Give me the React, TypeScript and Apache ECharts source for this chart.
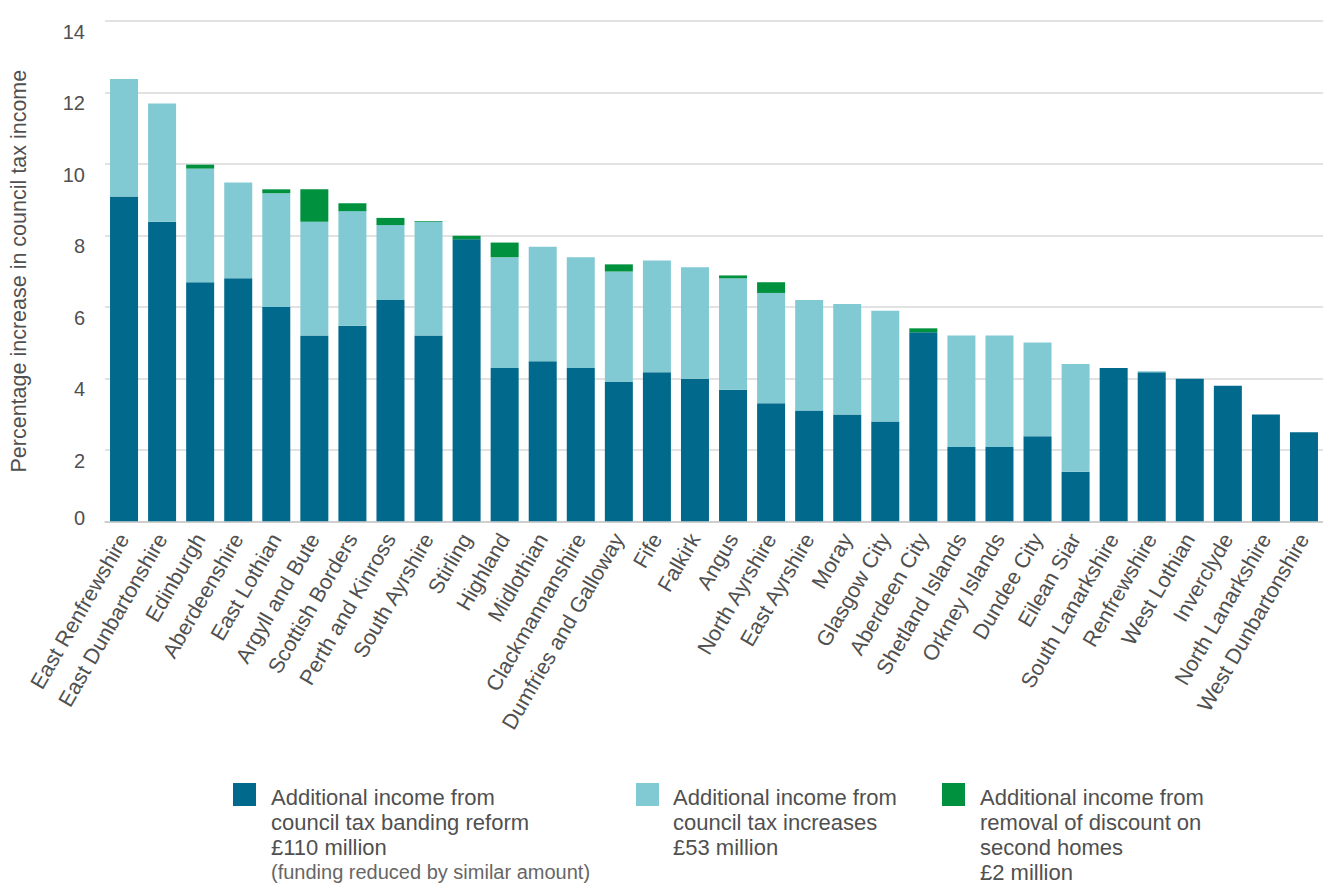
import React, { useEffect, useRef } from "react";
import * as echarts from "echarts";

const categories = [
  "East Renfrewshire", "East Dunbartonshire", "Edinburgh", "Aberdeenshire", "East Lothian",
  "Argyll and Bute", "Scottish Borders", "Perth and Kinross", "South Ayrshire", "Stirling",
  "Highland", "Midlothian", "Clackmannanshire", "Dumfries and Galloway", "Fife", "Falkirk",
  "Angus", "North Ayrshire", "East Ayrshire", "Moray", "Glasgow City", "Aberdeen City",
  "Shetland Islands", "Orkney Islands", "Dundee City", "Eilean Siar", "South Lanarkshire",
  "Renfrewshire", "West Lothian", "Inverclyde", "North Lanarkshire", "West Dunbartonshire",
];

const bandingReform = [
  9.09, 8.38, 6.69, 6.8, 6.0, 5.2, 5.47, 6.19, 5.2, 7.89, 4.29, 4.48, 4.29, 3.9, 4.17, 3.99,
  3.68, 3.3, 3.1, 2.99, 2.79, 5.29, 2.08, 2.08, 2.38, 1.39, 4.29, 4.17, 3.99, 3.79, 2.99, 2.49,
];

const taxIncreases = [
  3.29, 3.31, 3.18, 2.68, 3.18, 3.18, 3.21, 2.1, 3.18, 0, 3.1, 3.2, 3.1, 3.09, 3.13, 3.12,
  3.12, 3.09, 3.09, 3.09, 3.1, 0, 3.12, 3.12, 2.62, 3.01, 0, 0.03, 0, 0, 0, 0,
];

const secondHomes = [
  0, 0, 0.11, 0, 0.11, 0.91, 0.22, 0.2, 0.02, 0.1, 0.41, 0, 0, 0.2, 0, 0,
  0.08, 0.3, 0, 0, 0, 0.11, 0, 0, 0, 0, 0, 0, 0, 0, 0, 0,
];

const yTicks = [0, 2, 4, 6, 8, 10, 12, 14];

const seriesNames = [
  "Additional income from council tax banding reform",
  "Additional income from council tax increases",
  "Additional income from removal of discount on second homes",
];

const legendLines = [
  ["Additional income from", "council tax banding reform", "£110 million"],
  ["Additional income from", "council tax increases", "£53 million"],
  ["Additional income from", "removal of discount on", "second homes", "£2 million"],
];
const legendNote = "(funding reduced by similar amount)";

const COLORS = ["#00698c", "#82cad3", "#00913f"];
const FONT = "'Liberation Sans', Arial, sans-serif";
const TEXT = "#505050";

export default function App() {
  const ref = useRef<HTMLDivElement>(null);

  useEffect(() => {
    if (!ref.current) return;
    const chart = echarts.init(ref.current, null, { renderer: "svg" });

    const squareX = [233, 636, 942];
    const textX = [271, 673, 980];
    const graphics: any[] = [];
    legendLines.forEach((lines, i) => {
      graphics.push({
        type: "rect",
        x: squareX[i],
        y: 783,
        shape: { width: 23, height: 23 },
        style: { fill: COLORS[i] },
      });
      lines.forEach((t, j) => {
        graphics.push({
          type: "text",
          x: textX[i],
          y: 797 + j * 25,
          style: {
            text: t,
            fill: TEXT,
            font: `22px ${FONT}`,
            verticalAlign: "middle",
            align: "left",
          },
        });
      });
    });
    graphics.push({
      type: "text",
      x: textX[0],
      y: 797 + 3 * 25,
      style: {
        text: legendNote,
        fill: "#666",
        font: `20px ${FONT}`,
        verticalAlign: "middle",
        align: "left",
      },
    });

    const values = [bandingReform, taxIncreases, secondHomes];

    chart.setOption({
      animation: false,
      textStyle: { fontFamily: FONT },
      grid: { left: 96, right: -10.5, top: 15, bottom: 362.7, containLabel: false },
      xAxis: {
        type: "category",
        data: categories,
        axisTick: { show: false },
        axisLine: { show: true, lineStyle: { color: "#c8c8c8", width: 1.5 } },
        axisLabel: {
          interval: 0,
          rotate: 60,
          fontSize: 21.5,
          color: TEXT,
          margin: 14,
          fontFamily: FONT,
        },
      },
      yAxis: {
        type: "value",
        min: yTicks[0],
        max: yTicks[yTicks.length - 1],
        interval: 2,
        name: "Percentage increase in council tax income",
        nameLocation: "middle",
        nameGap: 75,
        nameTextStyle: { fontSize: 21.5, color: TEXT, fontFamily: FONT },
        axisLine: { show: false },
        axisTick: { show: false },
        splitLine: { lineStyle: { color: "#d9d9d9", width: 1.5 } },
        axisLabel: {
          color: TEXT,
          fontSize: 20,
          margin: 20,
          fontFamily: FONT,
          formatter: (v: number) =>
            v === 0 ? "{z|0}\n{s| }" : "{g| }\n{n|" + v + "}",
          rich: {
            z: { fontSize: 20, color: TEXT, lineHeight: 22, fontFamily: FONT },
            s: { fontSize: 4, lineHeight: 6 },
            g: { fontSize: 20, lineHeight: 22 },
            n: { fontSize: 20, color: TEXT, lineHeight: 22, fontFamily: FONT },
          },
        },
      },
      series: values.map((d, i) => ({
        name: seriesNames[i],
        type: "bar",
        stack: "total",
        barWidth: 28,
        data: d,
        itemStyle: { color: COLORS[i] },
      })),
      graphic: graphics,
    });

    return () => chart.dispose();
  }, []);

  return (
    <div
      ref={ref}
      style={{ position: "absolute", left: 0, top: 0, width: 1323, height: 884 }}
    />
  );
}
